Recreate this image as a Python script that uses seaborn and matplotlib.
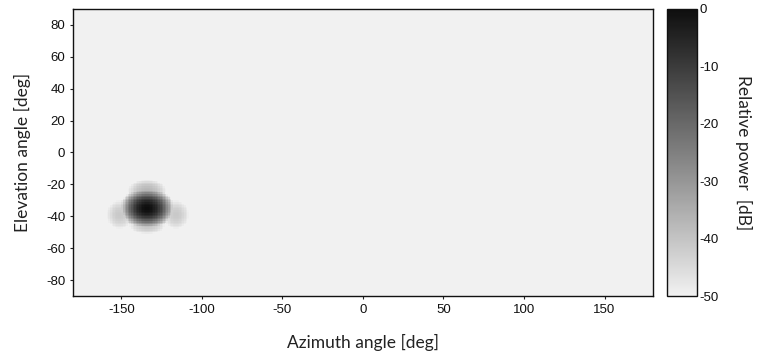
import numpy as np
import pandas as pd
import matplotlib
matplotlib.use("Agg")
import matplotlib.pyplot as plt
from matplotlib.colors import LinearSegmentedColormap
import seaborn as sns

# Beam lobes of the measured pattern (centre, peak level, extent to the floor)
lobe_names = ["main", "upper", "left", "right", "lower"]
lobe_az = [-134, -134, -151, -116, -134]        # deg
lobe_el = [-35, -24, -39, -39, -46]             # deg
lobe_peak_db = [0, -37, -41, -41, -40]          # dB
lobe_half_az = [17, 12, 8, 8, 11]               # deg
lobe_half_el = [13, 7, 9, 9, 5]                 # deg
floor_db = -50

# Tick labels
az_ticks = [-150, -100, -50, 0, 50, 100, 150]
el_ticks = [80, 60, 40, 20, 0, -20, -40, -60, -80]
cbar_ticks = [0, -10, -20, -30, -40, -50]

# 1-degree cells covering the full sphere
az_centres = np.arange(-179.5, 180, 1.0)
el_centres = np.arange(89.5, -90, -1.0)
AZ, EL = np.meshgrid(az_centres, el_centres)

power = np.full(AZ.shape, float(floor_db))
for a0, e0, pk, ha, he in zip(lobe_az, lobe_el, lobe_peak_db, lobe_half_az, lobe_half_el):
    d2 = ((AZ - a0) / ha) ** 2 + ((EL - e0) / he) ** 2
    level = pk + (floor_db - pk) * d2
    power = np.maximum(power, level)
power = np.clip(power, floor_db, 0)

df = pd.DataFrame(power, index=el_centres, columns=az_centres)

sns.set_theme(style="white")
plt.rcParams["font.family"] = ["Liberation Sans", "DejaVu Sans"]

fig = plt.figure(figsize=(7.6, 3.55), dpi=100)
ax = fig.add_axes([0.096, 0.166, 0.763, 0.809])
cax = fig.add_axes([0.878, 0.166, 0.039, 0.809])

cmap = LinearSegmentedColormap.from_list("relpow", ["#f1f1f1", "#0e0e0e"])

sns.heatmap(df, ax=ax, cbar_ax=cax, cmap=cmap, vmin=-50, vmax=0,
            xticklabels=False, yticklabels=False, rasterized=True,
            cbar_kws={"ticks": cbar_ticks})

tick_font = {"family": ["Liberation Sans", "DejaVu Sans"], "size": 9.5, "color": "#111111"}

# heatmap x runs 0..360 and y runs 0..180 (top row first)
ax.set_xticks([a + 180 for a in az_ticks])
ax.set_xticklabels([str(a) for a in az_ticks], fontdict=tick_font)
ax.set_yticks([90 - e for e in el_ticks])
ax.set_yticklabels([str(e) for e in el_ticks], fontdict=tick_font, rotation=0)
ax.tick_params(axis="both", which="both", length=2.5, width=0.8, color="#222222",
               direction="out", bottom=True, left=True, pad=3)
for s in ax.spines.values():
    s.set_visible(True)
    s.set_color("#111111")
    s.set_linewidth(1.0)

lab_font = {"family": ["Lato", "DejaVu Sans"], "size": 12.5, "color": "#222222"}
ax.set_xlabel("Azimuth angle [deg]", fontdict=lab_font, labelpad=13)
ax.set_ylabel("Elevation angle [deg]", fontdict=lab_font, labelpad=11)

cbar = ax.collections[0].colorbar
cbar.outline.set_visible(True)
cbar.outline.set_edgecolor("#111111")
cbar.outline.set_linewidth(1.0)
cax.tick_params(length=0, pad=2)
cax.set_yticks(cbar_ticks)
cax.set_yticklabels([str(t) for t in cbar_ticks], fontdict=tick_font)
cbar.set_label("Relative power  [dB]", rotation=270, labelpad=24, fontdict=lab_font)

fig.savefig("out.png", dpi=100)
